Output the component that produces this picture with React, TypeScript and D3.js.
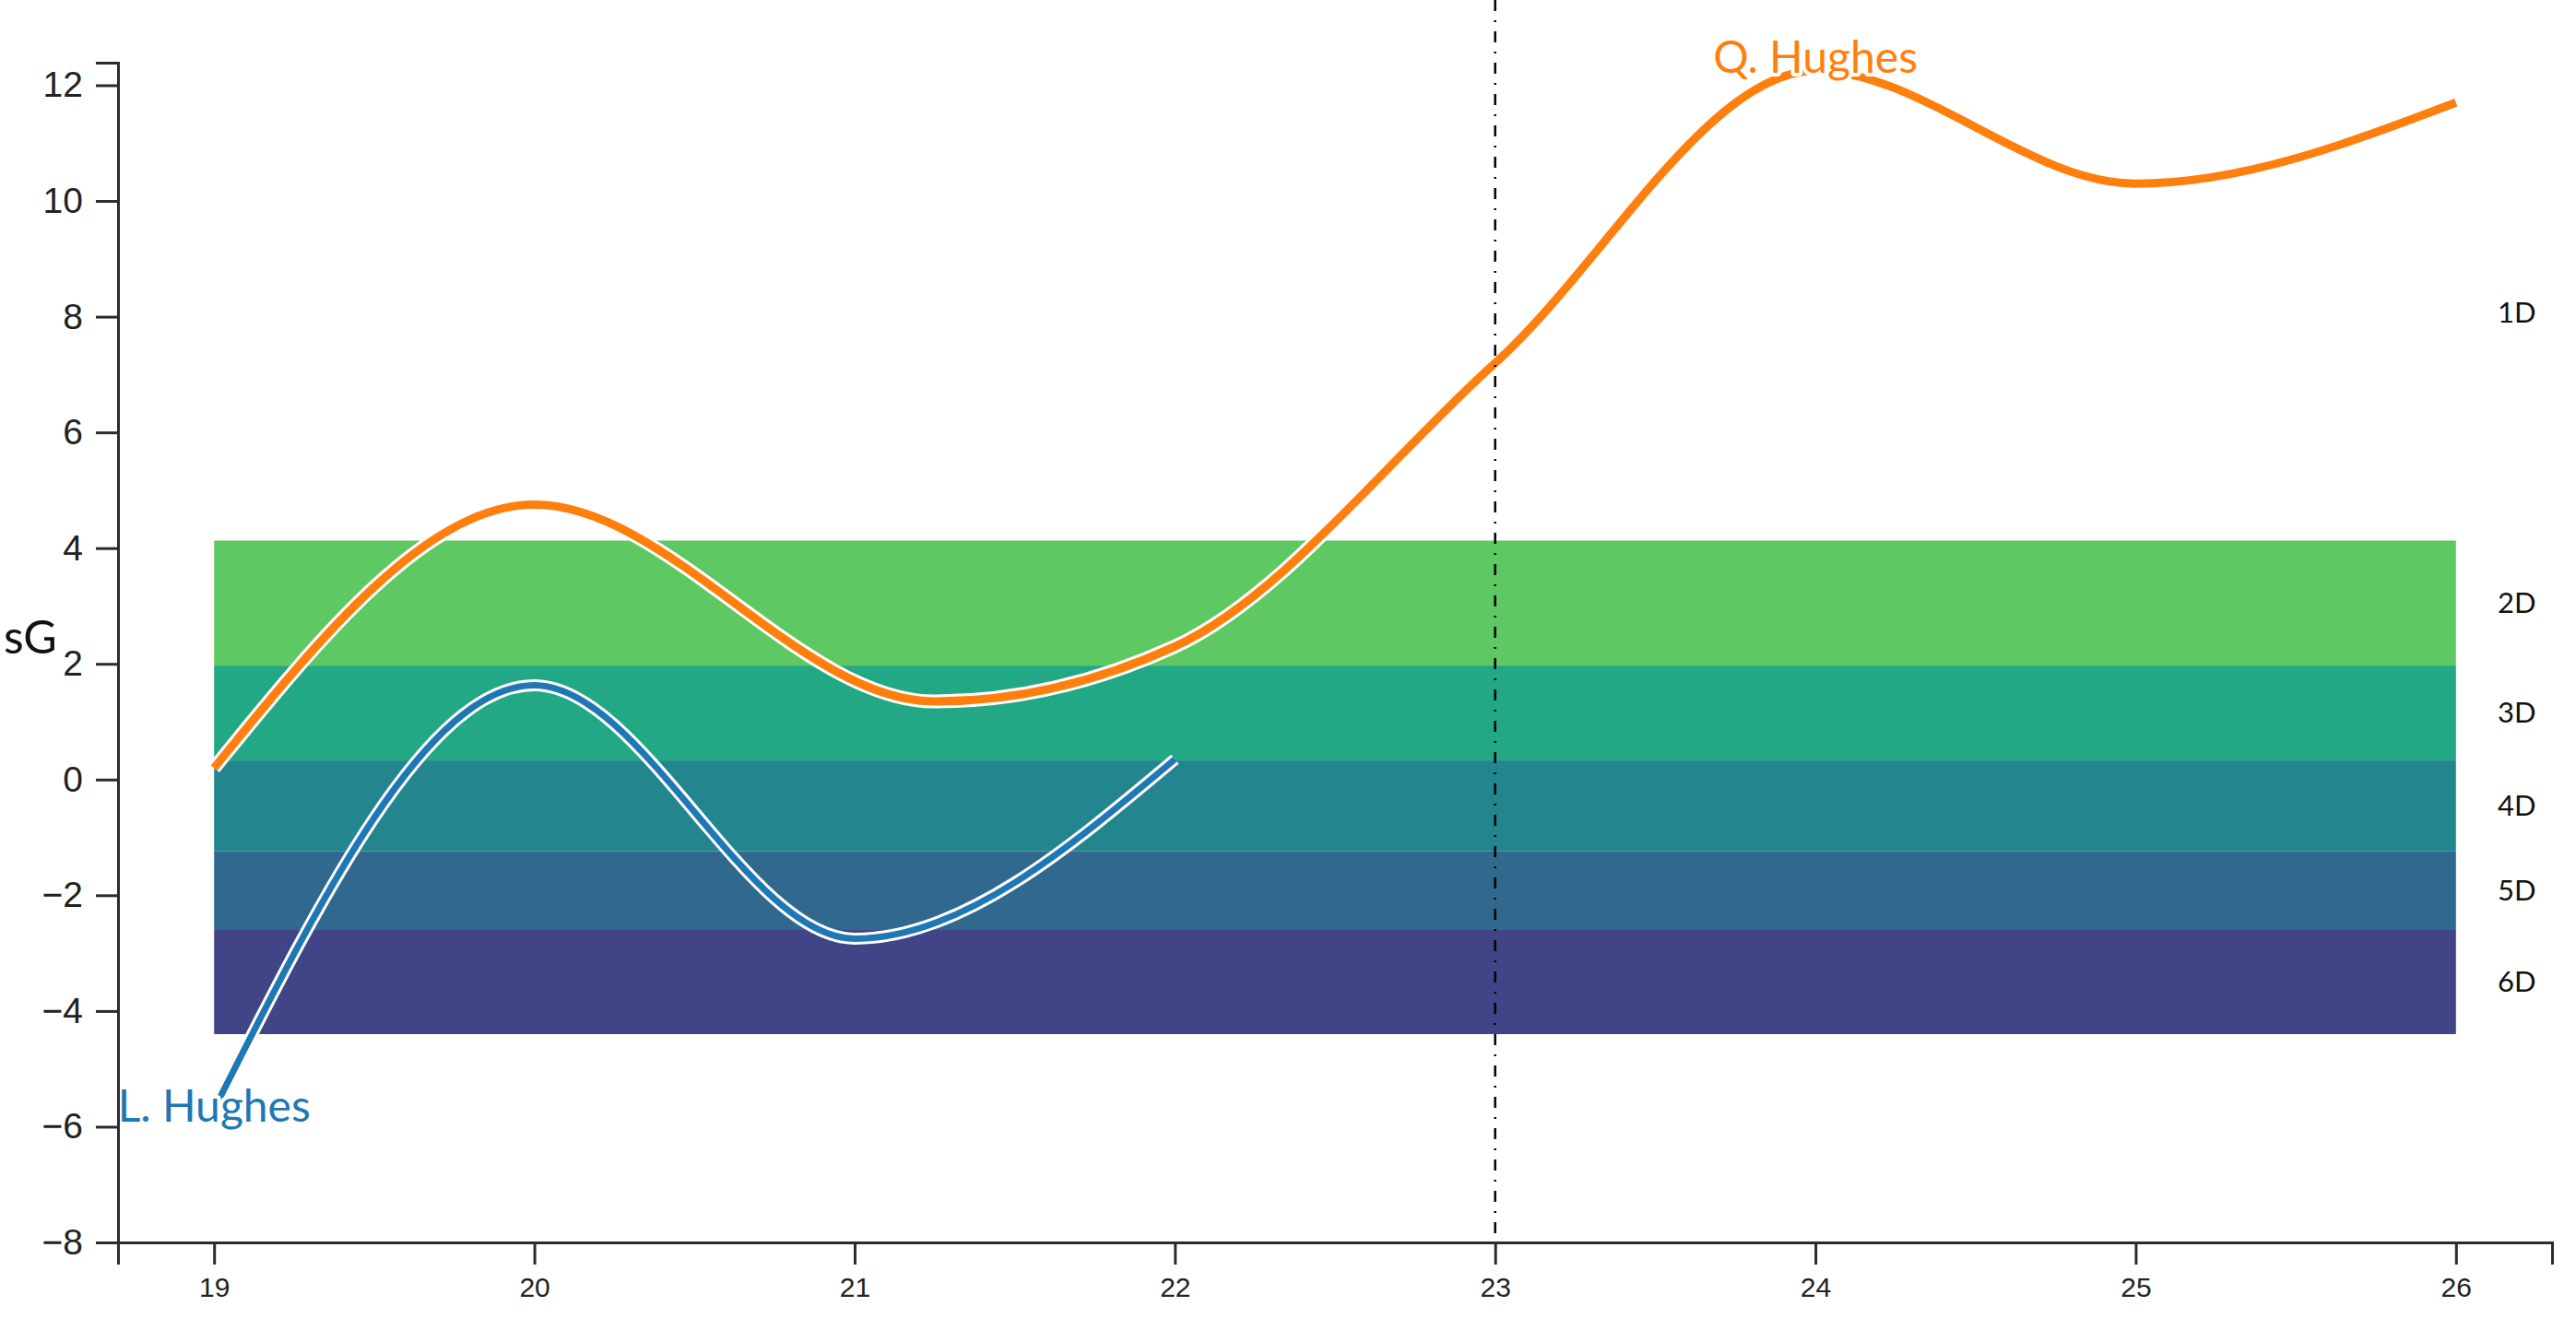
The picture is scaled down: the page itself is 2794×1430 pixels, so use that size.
import { useEffect, useRef } from 'react';
import * as d3 from 'd3';

const WIDTH = 2794;
const HEIGHT = 1430;

// axis ticks
const xTicks = [19, 20, 21, 22, 23, 24, 25, 26];
const yTicks = [-8, -6, -4, -2, 0, 2, 4, 6, 8, 10, 12];

// Q. Hughes (orange)
const qHughesX = [19, 20, 21.25, 22, 23, 24, 25, 26];
const qHughesY = [0.2, 4.75, 1.35, 2.3, 7.2, 12.25, 10.3, 11.7];

// L. Hughes (blue)
const lHughesX = [19, 20, 21, 22];
const lHughesY = [-5.7, 1.63, -2.75, 0.35];

// series labels
const seriesNames = ['L. Hughes', 'Q. Hughes'];
const seriesLabelX = [19, 24];
const seriesLabelY = [-5.64, 12.48];

// grade bands
const bandNames = ['1D', '2D', '3D', '4D', '5D', '6D'];
const bandTop = [12, 4.13, 1.97, 0.33, -1.24, -2.6];
const bandBottom = [4.13, 1.97, 0.33, -1.24, -2.6, -4.4];
const bandStart = 19;
const bandEnd = 26;

const marker = 23;

const BAND_COLORS = ['none', '#5ec962', '#22a884', '#23858e', '#31688e', '#414487'];
const SERIES_COLORS = { q: '#ff7f0e', l: '#1f77b4' };
const AXIS_COLOR = '#2b2b2b';

export default function App() {
  const svgRef = useRef<SVGSVGElement>(null);

  useEffect(() => {
    if (!svgRef.current) return;
    const svg = d3.select(svgRef.current);
    svg.selectAll('*').remove();

    const x = d3.scaleLinear().domain([18.7, 26.3]).range([128, 2768]);
    const y = d3.scaleLinear().domain([-8, 12.39]).range([1348, 68]);

    // bands
    const bands = bandNames.map((name, i) => ({ name, top: bandTop[i], bottom: bandBottom[i], color: BAND_COLORS[i] }));
    svg.append('g')
      .selectAll('rect')
      .data(bands.filter(b => b.color !== 'none'))
      .join('rect')
      .attr('x', x(bandStart))
      .attr('width', x(bandEnd) - x(bandStart))
      .attr('y', d => y(d.top))
      .attr('height', d => y(d.bottom) - y(d.top))
      .attr('fill', d => d.color);

    svg.append('g')
      .selectAll('text')
      .data(bands)
      .join('text')
      .attr('x', 2709)
      .attr('y', d => y((d.top + d.bottom) / 2))
      .attr('dy', '0.35em')
      .attr('font-family', 'Lato, "DejaVu Sans", sans-serif')
      .attr('font-size', 31)
      .attr('fill', '#111')
      .text(d => d.name);

    // lines, each with a white casing underneath
    const line = d3.line<[number, number]>()
      .x(d => x(d[0]))
      .y(d => y(d[1]))
      .curve(d3.curveMonotoneX);

    const series = [
      { pts: lHughesX.map((v, i) => [v, lHughesY[i]] as [number, number]), color: SERIES_COLORS.l, core: 7, casing: 13 },
      { pts: qHughesX.map((v, i) => [v, qHughesY[i]] as [number, number]), color: SERIES_COLORS.q, core: 9, casing: 15 },
    ];

    const lines = svg.append('g').attr('fill', 'none');
    series.forEach(s => {
      lines.append('path')
        .attr('d', line(s.pts))
        .attr('stroke', '#fff')
        .attr('stroke-width', s.casing);
      lines.append('path')
        .attr('d', line(s.pts))
        .attr('stroke', s.color)
        .attr('stroke-width', s.core);
    });

    // dash-dot marker
    svg.append('line')
      .attr('x1', x(marker))
      .attr('x2', x(marker))
      .attr('y1', 0)
      .attr('y2', y(-8))
      .attr('stroke', '#000')
      .attr('stroke-width', 2.5)
      .attr('stroke-dasharray', '12,10,2,10');

    // series labels
    svg.append('g')
      .selectAll('text')
      .data(seriesNames)
      .join('text')
      .attr('x', (_, i) => x(seriesLabelX[i]))
      .attr('y', (_, i) => y(seriesLabelY[i]))
      .attr('dy', '0.35em')
      .attr('text-anchor', 'middle')
      .attr('font-family', 'Lato, sans-serif')
      .attr('font-size', 48)
      .attr('fill', (_, i) => (i === 0 ? SERIES_COLORS.l : SERIES_COLORS.q))
      .attr('stroke', '#fff')
      .attr('stroke-width', 8)
      .attr('stroke-linejoin', 'round')
      .attr('paint-order', 'stroke')
      .text(d => d);

    // axes
    const xAxis = d3.axisBottom(x).tickValues(xTicks).tickSize(24).tickPadding(14).tickFormat(d3.format('d'));
    const yAxis = d3.axisLeft(y).tickValues(yTicks).tickSize(24).tickPadding(14).tickFormat(d3.format('d'));

    const gx = svg.append('g').attr('transform', `translate(0,${y(-8)})`).call(xAxis);
    gx.selectAll('text').attr('font-size', 30);
    const gy = svg.append('g').attr('transform', `translate(${x(18.7)},0)`).call(yAxis);
    gy.selectAll('text').attr('font-size', 39);

    [gx, gy].forEach(g => {
      g.attr('font-family', '"Liberation Sans", Arial, sans-serif');
      g.select('.domain').attr('stroke', AXIS_COLOR).attr('stroke-width', 3);
      g.selectAll('.tick line').attr('stroke', AXIS_COLOR).attr('stroke-width', 3);
      g.selectAll('.tick text').attr('fill', '#222');
    });

    // y label
    svg.append('text')
      .attr('x', 4)
      .attr('y', y(2.45))
      .attr('dy', '0.35em')
      .attr('font-family', 'Lato, sans-serif')
      .attr('font-size', 50)
      .attr('fill', '#111')
      .text('sG');
  }, []);

  return (
    <svg
      ref={svgRef}
      width={WIDTH}
      height={HEIGHT}
      style={{ position: 'absolute', left: 0, top: 0, background: '#fff' }}
    />
  );
}
